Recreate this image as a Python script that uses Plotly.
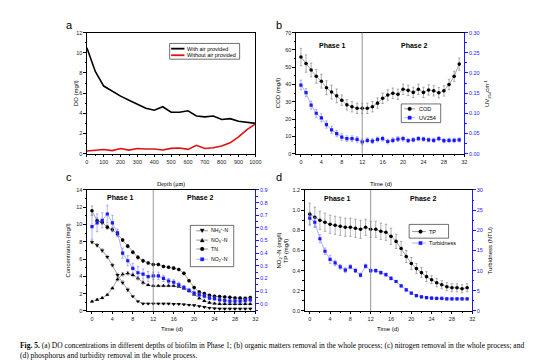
import plotly.graph_objects as go

W, H = 554, 361

# ---------------- data ----------------
# (a) DO vs depth
depth_um = [0, 50, 100, 150, 200, 250, 300, 350, 400, 450, 500, 550, 600, 650, 700, 750, 800, 850, 900, 950, 1000]
do_with_air = [10.5, 8.15, 6.7, 6.2, 5.7, 5.3, 4.9, 4.5, 4.3, 4.65, 4.1, 4.1, 4.25, 3.73, 3.64, 3.73, 3.38, 3.47, 3.2, 3.1, 3.0]
do_without_air = [0.25, 0.3, 0.4, 0.3, 0.5, 0.35, 0.5, 0.45, 0.45, 0.35, 0.52, 0.55, 0.42, 0.82, 0.5, 0.58, 0.75, 1.07, 1.66, 2.37, 2.95]

# common time axis (days)
days = list(range(32))

# (b) organic matter
cod = [55.9, 52.1, 48.4, 44.7, 41.9, 38.1, 35.6, 33.4, 30.9, 28.2, 27.1, 26.2, 26.2, 26.2, 27.1, 29.2,
       32.0, 33.9, 34.9, 34.3, 37.2, 36.6, 35.4, 37.2, 35.4, 36.8, 36.3, 35.2, 36.3, 40.0, 44.7, 51.8]
cod_err = [5, 5, 4, 4, 4, 4, 4, 4, 3, 3, 3, 3, 3, 3, 3, 3, 3, 3, 3, 3, 3, 3, 3, 3, 3, 3, 3, 3, 3, 3, 3, 3.5]
uv254 = [0.170, 0.151, 0.120, 0.100, 0.0885, 0.072, 0.059, 0.0495, 0.041, 0.037, 0.037, 0.035, 0.029, 0.033, 0.031, 0.035,
         0.037, 0.030, 0.033, 0.036, 0.037, 0.032, 0.034, 0.037, 0.036, 0.034, 0.033, 0.037, 0.032, 0.033, 0.033, 0.034]
uv254_err = [0.012, 0.01, 0.01, 0.01, 0.01, 0.009, 0.009, 0.008, 0.008, 0.007, 0.007, 0.007, 0.007, 0.006, 0.006, 0.006,
             0.006, 0.006, 0.006, 0.006, 0.006, 0.005, 0.005, 0.005, 0.005, 0.005, 0.005, 0.005, 0.005, 0.005, 0.005, 0.005]

# (c) nitrogen
nh4 = [7.97, 7.6, 7.0, 6.25, 5.3, 4.16, 3.28, 2.45, 1.68, 1.1, 0.85, 0.85, 0.85, 0.85, 0.85, 0.85,
       0.8, 0.8, 0.75, 0.7, 0.65, 0.55, 0.45, 0.35, 0.3, 0.25, 0.25, 0.25, 0.25, 0.25, 0.25, 0.25]
nh4_err = [0.2, 0.2, 0.2, 0.2, 0.2, 0.2, 0.2, 0.2, 0.08, 0.08, 0.08, 0.08, 0.08, 0.08, 0.08, 0.08,
           0.08, 0.08, 0.08, 0.08, 0.08, 0.08, 0.08, 0.08, 0.08, 0.08, 0.08, 0.08, 0.08, 0.08, 0.08, 0.08]
no3 = [1.1, 1.3, 1.5, 1.87, 2.63, 3.66, 4.23, 4.35, 4.16, 3.78, 3.28, 3.0, 2.9, 2.9, 2.9, 2.9,
       2.9, 2.8, 2.6, 2.3, 1.9, 1.45, 1.15, 0.95, 0.85, 0.8, 0.8, 0.8, 0.8, 0.8, 0.8, 0.8]
no3_err = [0.1, 0.1, 0.1, 0.1, 0.1, 0.2, 0.2, 0.2, 0.2, 0.2, 0.2, 0.1, 0.1, 0.1, 0.1, 0.1,
           0.1, 0.1, 0.1, 0.1, 0.1, 0.1, 0.1, 0.1, 0.1, 0.1, 0.1, 0.1, 0.1, 0.1, 0.1, 0.1]
tn = [11.6, 10.45, 10.26, 9.7, 9.4, 8.9, 8.2, 7.5, 6.8, 6.2, 5.8, 5.55, 5.38, 5.38, 5.15, 5.05,
      4.95, 4.8, 4.35, 3.5, 2.7, 2.2, 2.0, 1.8, 1.7, 1.66, 1.6, 1.57, 1.5, 1.48, 1.45, 1.55]
tn_err = [0.55, 0.3, 0.25, 0.25, 0.25, 0.25, 0.2, 0.2, 0.2, 0.2, 0.2, 0.15, 0.15, 0.15, 0.15, 0.15,
          0.15, 0.15, 0.15, 0.15, 0.15, 0.15, 0.15, 0.15, 0.15, 0.15, 0.15, 0.15, 0.15, 0.15, 0.15, 0.15]
no2 = [0.61, 0.64, 0.66, 0.71, 0.64, 0.56, 0.40, 0.34, 0.28, 0.245, 0.235, 0.215, 0.22, 0.22, 0.2, 0.18,
       0.17, 0.15, 0.13, 0.105, 0.085, 0.07, 0.06, 0.045, 0.04, 0.03, 0.025, 0.02, 0.02, 0.02, 0.025, 0.03]
no2_err = [0.1, 0.07, 0.06, 0.07, 0.06, 0.03, 0.04, 0.04, 0.04, 0.05, 0.04, 0.04, 0.03, 0.03, 0.025, 0.02,
           0.02, 0.02, 0.015, 0.015, 0.015, 0.015, 0.015, 0.015, 0.015, 0.015, 0.015, 0.015, 0.015, 0.015, 0.015, 0.015]

# (d) phosphorus and turbidity
tp = [0.96, 0.93, 0.90, 0.88, 0.86, 0.85, 0.84, 0.83, 0.83, 0.82, 0.81, 0.83, 0.81, 0.81, 0.79, 0.78,
      0.74, 0.69, 0.62, 0.54, 0.47, 0.42, 0.38, 0.34, 0.31, 0.28, 0.26, 0.24, 0.23, 0.23, 0.22, 0.23]
tp_err = [0.11, 0.1, 0.09, 0.09, 0.09, 0.09, 0.09, 0.09, 0.09, 0.09, 0.09, 0.08, 0.08, 0.08, 0.08, 0.08,
          0.08, 0.07, 0.07, 0.06, 0.06, 0.05, 0.05, 0.05, 0.04, 0.04, 0.04, 0.04, 0.04, 0.04, 0.04, 0.04]
turbidness = [23.0, 22.0, 17.9, 14.8, 12.8, 11.9, 10.95, 10.1, 10.95, 10.0, 8.9, 11.1, 10.0, 10.0, 9.5, 9.0,
              8.1, 7.3, 6.2, 5.2, 4.4, 3.8, 3.5, 3.3, 3.2, 3.1, 3.1, 3.0, 3.0, 3.0, 3.0, 3.0]
turb_err = [1.5, 1.2, 1.0, 0.8, 1.0, 0.7, 0.6, 0.6, 0.5, 0.5, 0.5, 0.5, 0.4, 0.4, 0.4, 0.4,
            0.4, 0.3, 0.3, 0.3, 0.3, 0.3, 0.3, 0.3, 0.3, 0.3, 0.3, 0.3, 0.3, 0.3, 0.3, 0.3]

phase_boundary_day = 12

caption = ("<b>Fig. 5.</b> (a) DO concentrations in different depths of biofilm in Phase 1; (b) organic matters removal "
           "in the whole process; (c) nitrogen removal in the whole process; and<br>"
           "(d) phosphorus and turbidity removal in the whole process.")

# ---------------- styling ----------------
BLUE = "#1a1aff"
LBLUE = "#7b7bff"
GRAY = "#7a7a7a"
SANS = "Liberation Sans, Arial, sans-serif"
SERIF = "Liberation Serif, Times New Roman, serif"


def px(x):
    return x / W


def py(y):
    return 1 - y / H


def dom_x(a, b):
    return [px(a), px(b)]


def dom_y(top, bottom):
    return [py(bottom), py(top)]


tickfont = dict(family=SANS, size=5.5, color="#222")
bluetick = dict(family=SANS, size=5.5, color=BLUE)


def xax(domain, anchor, rng, dtick, minor_dtick):
    return dict(domain=domain, anchor=anchor, range=rng, dtick=dtick, tick0=0,
                showline=True, linecolor="black", linewidth=0.8, mirror=True,
                ticks="outside", ticklen=2.5, tickwidth=0.7, tickcolor="black",
                minor=dict(ticks="outside", ticklen=1.3, dtick=minor_dtick, tick0=0, tickcolor="black"),
                tickfont=tickfont, showgrid=False, zeroline=False)


def yax(domain, anchor, rng, dtick, minor_dtick, fmt=None, mirror=False):
    d = dict(domain=domain, anchor=anchor, range=rng, dtick=dtick, tick0=0,
             showline=True, linecolor="black", linewidth=0.8, mirror=mirror,
             ticks="outside", ticklen=2.5, tickwidth=0.7, tickcolor="black",
             minor=dict(ticks="outside", ticklen=1.3, dtick=minor_dtick, tick0=0, tickcolor="black"),
             tickfont=tickfont, showgrid=False, zeroline=False)
    if fmt:
        d["tickformat"] = fmt
    return d


def yax_right(overlay, anchor, rng, dtick, minor_dtick, fmt=None):
    d = dict(overlaying=overlay, anchor=anchor, side="right", range=rng, dtick=dtick, tick0=0,
             showline=True, linecolor=BLUE, linewidth=0.9,
             ticks="outside", ticklen=2.5, tickwidth=0.7, tickcolor=BLUE,
             minor=dict(ticks="outside", ticklen=1.3, dtick=minor_dtick, tick0=0, tickcolor=BLUE),
             tickfont=bluetick, showgrid=False, zeroline=False)
    if fmt:
        d["tickformat"] = fmt
    return d


# panel boxes (pixels)
A = dict(x=(78, 249), y=(22, 145))
B = dict(x=(290, 461), y=(22, 145))
C = dict(x=(78, 249), y=(182, 305))
D = dict(x=(299, 469), y=(182, 305))

fig = go.Figure()

err_style = dict(type="data", color=GRAY, thickness=0.6, width=1.2)
err_blue = dict(type="data", color=LBLUE, thickness=0.6, width=1.2)

# (a)
fig.add_trace(go.Scatter(x=depth_um, y=do_with_air, mode="lines", name="With air provided",
                         line=dict(color="black", width=1.6), xaxis="x", yaxis="y", showlegend=False))
fig.add_trace(go.Scatter(x=depth_um, y=do_without_air, mode="lines", name="Without air provided",
                         line=dict(color="#e01010", width=1.6), xaxis="x", yaxis="y", showlegend=False))

# (b)
fig.add_trace(go.Scatter(x=days, y=cod, mode="lines+markers", name="COD",
                         line=dict(color="#666", width=0.6), marker=dict(symbol="circle", size=3.6, color="black"),
                         error_y=dict(array=cod_err, **err_style), xaxis="x2", yaxis="y2", showlegend=False))
fig.add_trace(go.Scatter(x=days, y=uv254, mode="lines+markers", name="UV254",
                         line=dict(color=LBLUE, width=0.6), marker=dict(symbol="square", size=3.2, color=BLUE),
                         error_y=dict(array=uv254_err, **err_blue), xaxis="x2", yaxis="y3", showlegend=False))

# (c)
fig.add_trace(go.Scatter(x=days, y=nh4, mode="lines+markers", name="NH4+-N",
                         line=dict(color="#666", width=0.6), marker=dict(symbol="triangle-down", size=3.8, color="black"),
                         error_y=dict(array=nh4_err, **err_style), xaxis="x3", yaxis="y4", showlegend=False))
fig.add_trace(go.Scatter(x=days, y=no3, mode="lines+markers", name="NO3--N",
                         line=dict(color="#666", width=0.6), marker=dict(symbol="triangle-up", size=3.8, color="black"),
                         error_y=dict(array=no3_err, **err_style), xaxis="x3", yaxis="y4", showlegend=False))
fig.add_trace(go.Scatter(x=days, y=tn, mode="lines+markers", name="TN",
                         line=dict(color="#666", width=0.6), marker=dict(symbol="circle", size=3.6, color="black"),
                         error_y=dict(array=tn_err, **err_style), xaxis="x3", yaxis="y4", showlegend=False))
fig.add_trace(go.Scatter(x=days, y=no2, mode="lines+markers", name="NO2--N",
                         line=dict(color=LBLUE, width=0.6), marker=dict(symbol="square", size=3.2, color=BLUE),
                         error_y=dict(array=no2_err, **err_blue), xaxis="x3", yaxis="y5", showlegend=False))

# (d)
fig.add_trace(go.Scatter(x=days, y=tp, mode="lines+markers", name="TP",
                         line=dict(color="#666", width=0.6), marker=dict(symbol="circle", size=3.6, color="black"),
                         error_y=dict(array=tp_err, **err_style), xaxis="x4", yaxis="y6", showlegend=False))
fig.add_trace(go.Scatter(x=days, y=turbidness, mode="lines+markers", name="Turbidness",
                         line=dict(color=LBLUE, width=0.6), marker=dict(symbol="square", size=3.2, color=BLUE),
                         error_y=dict(array=turb_err, **err_blue), xaxis="x4", yaxis="y7", showlegend=False))

layout = dict(
    width=W, height=H, margin=dict(l=0, r=0, t=0, b=0),
    paper_bgcolor="white", plot_bgcolor="white", showlegend=False,
    font=dict(family=SANS, size=6, color="black"),
    xaxis=xax(dom_x(*A["x"]), "y", [0, 1000], 100, 50),
    yaxis=yax(dom_y(*A["y"]), "x", [0, 12], 2, 1, mirror=True),
    xaxis2=xax(dom_x(*B["x"]), "y2", [-1, 32], 4, 2),
    yaxis2=yax(dom_y(*B["y"]), "x2", [0, 70], 10, 5),
    yaxis3=yax_right("y2", "x2", [0, 0.30], 0.05, 0.025, ".2f"),
    xaxis3=xax(dom_x(*C["x"]), "y4", [-1, 32], 4, 2),
    yaxis4=yax(dom_y(*C["y"]), "x3", [0, 14], 2, 1),
    yaxis5=yax_right("y4", "x3", [-0.057, 0.9], 0.1, 0.05, ".1f"),
    xaxis4=xax(dom_x(*D["x"]), "y6", [-1, 32], 4, 2),
    yaxis6=yax(dom_y(*D["y"]), "x4", [0, 1.2], 0.2, 0.1, ".1f"),
    yaxis7=yax_right("y6", "x4", [0, 30], 5, 2.5),
)
fig.update_layout(**layout)

shapes = []
annotations = []

# phase boundary lines
for xa, ya in (("x2", "y2"), ("x3", "y4"), ("x4", "y6")):
    shapes.append(dict(type="line", xref=xa, yref=f"{ya} domain", x0=phase_boundary_day, x1=phase_boundary_day,
                       y0=0, y1=1, line=dict(color="#8a8a8a", width=0.9)))


def text(x, y, s, size=6, angle=0, family=SANS, color="black", xanchor="center", yanchor="middle", align="center"):
    annotations.append(dict(xref="paper", yref="paper", x=px(x), y=py(y), text=s, showarrow=False,
                            textangle=angle, font=dict(family=family, size=size, color=color),
                            xanchor=xanchor, yanchor=yanchor, align=align))


# panel letters
text(60, 14, "a", size=11)
text(273, 14, "b", size=11)
text(60, 169, "c", size=11)
text(273, 169, "d", size=11)

# axis titles
text(67, 83.5, "DO (mg/l)", angle=-90)
text(163.5, 176, "Depth (μm)", size=6, family=SERIF)
text(272, 83.5, "COD (mg/l)", angle=-90)
text(484, 83.5, "UV<sub>254</sub>cm<sup>-1</sup>", angle=-90)
text(376, 176, "Time (d)")
text(59, 243.5, "Concentration (mg/l)", angle=-90)
text(273, 243.5, "NO<sub>2</sub><sup>-</sup>-N (mg/l)", angle=-90)
text(281, 243.5, "TP (mg/l)", angle=-90)
text(487, 243.5, "Turbidness (NTU)", angle=-90)
text(164, 323, "Time (d)")
text(384, 323, "Time (d)")

# phase labels
for (x1, x2, y) in ((327, 410, 35), (112, 193, 190), (332, 420, 191)):
    text(x1, y, "<b>Phase 1</b>", size=7)
    text(x2, y, "<b>Phase 2</b>", size=7)


# ---------- hand-drawn legends ----------
def box(x0, y0, x1, y1):
    shapes.append(dict(type="rect", xref="paper", yref="paper", x0=px(x0), x1=px(x1), y0=py(y1), y1=py(y0),
                       line=dict(color="#333", width=0.7), fillcolor="white", layer="above"))


def seg(x0, x1, y, color, width):
    shapes.append(dict(type="line", xref="paper", yref="paper", x0=px(x0), x1=px(x1), y0=py(y), y1=py(y),
                       line=dict(color=color, width=width), layer="above"))


def sym(cx, cy, kind, color, r=1.9):
    if kind == "circle":
        shapes.append(dict(type="circle", xref="paper", yref="paper", x0=px(cx - r), x1=px(cx + r),
                           y0=py(cy + r), y1=py(cy - r), line=dict(color=color, width=0.3), fillcolor=color,
                           layer="above"))
    elif kind == "square":
        r = r * 0.9
        shapes.append(dict(type="rect", xref="paper", yref="paper", x0=px(cx - r), x1=px(cx + r),
                           y0=py(cy + r), y1=py(cy - r), line=dict(color=color, width=0.3), fillcolor=color,
                           layer="above"))
    else:
        s = 1 if kind == "down" else -1
        pts = [(cx - r * 1.1, cy - s * r), (cx + r * 1.1, cy - s * r), (cx, cy + s * r)]
        path = "M " + " L ".join(f"{px(a):.5f},{py(b):.5f}" for a, b in pts) + " Z"
        shapes.append(dict(type="path", xref="paper", yref="paper", path=path,
                           line=dict(color=color, width=0.3), fillcolor=color, layer="above"))


# legend a
box(162, 33, 233, 49)
seg(163.5, 177, 38.3, "black", 1.8)
seg(163.5, 177, 45, "#e01010", 1.8)
text(178, 38.3, "With air provided", size=5.5, xanchor="left")
text(178, 45, "Without air provided", size=5.5, xanchor="left")

# legend b
box(397, 94.5, 437, 113.5)
seg(400, 411, 99.5, "#555", 0.6)
sym(405.5, 99.5, "circle", "black")
text(413, 99.5, "COD", size=5.5, xanchor="left")
seg(400, 411, 108.5, LBLUE, 0.6)
sym(405.5, 108.5, "square", BLUE)
text(413, 108.5, "UV254", size=5.5, xanchor="left")

# legend c
box(183, 218, 227, 260)
entries_c = [(223.5, "down", "black", "#555", "NH<sub>4</sub><sup>+</sup>-N"),
             (233, "up", "black", "#555", "NO<sub>3</sub><sup>-</sup>-N"),
             (242, "circle", "black", "#555", "TN"),
             (252.5, "square", BLUE, LBLUE, "NO<sub>2</sub><sup>-</sup>-N")]
for y, k, c, lc, lab in entries_c:
    seg(189, 201, y, lc, 0.6)
    sym(195, y, k, c)
    text(202, y, lab, size=5.2, xanchor="left")

# legend d (box around TP only, as in the original)
box(405, 217, 445, 231)
seg(408, 422, 224.3, "#555", 0.6)
sym(416.5, 224.3, "circle", "black")
text(423, 224.3, "TP", size=5.5, xanchor="left")
seg(408, 422, 236, LBLUE, 0.6)
sym(416.5, 236, "square", BLUE)
text(423, 236, "Turbidness", size=5.5, xanchor="left")

# caption
annotations.append(dict(xref="paper", yref="paper", x=px(8), y=py(333.5), text=caption, showarrow=False,
                        xanchor="left", yanchor="top", align="left",
                        font=dict(family=SERIF, size=7.5, color="black")))

fig.update_layout(shapes=shapes, annotations=annotations)
fig.write_html("out.html")
